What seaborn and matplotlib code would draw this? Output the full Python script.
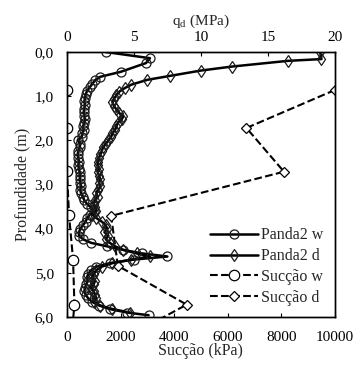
import numpy as np
import pandas as pd
import seaborn as sns
from matplotlib import pyplot as plt

# Panda2 w (circles) - depth (m) vs qd (MPa)
panda_w_depth = [0.00, 0.14, 0.25, 0.45, 0.56, 0.64, 0.72, 0.80, 0.88, 0.96, 1.04, 1.12, 1.20,
                 1.28, 1.36, 1.44, 1.52, 1.60, 1.68, 1.76, 1.84, 1.92, 2.00, 2.08, 2.16, 2.24,
                 2.32, 2.40, 2.48, 2.56, 2.64, 2.72, 2.80, 2.88, 2.96, 3.04, 3.12, 3.20, 3.28,
                 3.36, 3.44, 3.52, 3.60, 3.68, 3.76, 3.84, 3.92, 4.00, 4.08, 4.16, 4.24, 4.32,
                 4.40, 4.48, 4.56, 4.63, 4.70, 4.78, 4.86, 4.94, 5.02, 5.10, 5.18, 5.26, 5.34,
                 5.42, 5.50, 5.58, 5.66, 5.74, 5.82, 5.90, 5.96]
panda_w_qd = [2.9, 6.2, 5.9, 4.0, 2.5, 2.1, 1.9, 1.7, 1.5, 1.4, 1.35, 1.3, 1.35,
              1.3, 1.25, 1.3, 1.35, 1.3, 1.2, 1.25, 1.15, 1.1, 0.8, 1.0, 0.95, 0.85,
              0.8, 0.85, 0.9, 0.85, 0.9, 0.95, 1.0, 0.95, 1.0, 1.05, 1.0, 1.05, 1.2,
              1.3, 1.5, 1.8, 2.0, 1.7, 1.5, 1.4, 1.2, 1.0, 0.9, 0.9, 1.2, 1.8,
              3.0, 4.2, 5.6, 7.5, 5.0, 3.2, 2.2, 1.8, 1.6, 1.5, 1.55, 1.45, 1.35,
              1.3, 1.4, 1.6, 1.9, 2.4, 3.2, 4.5, 6.1]

# Panda2 d (diamonds)
panda_d_depth = [0.00, 0.16, 0.20, 0.33, 0.42, 0.54, 0.63, 0.74, 0.82, 0.90, 0.98, 1.06, 1.14,
                 1.22, 1.30, 1.38, 1.46, 1.52, 1.60, 1.68, 1.76, 1.84, 1.92, 2.00, 2.08, 2.16,
                 2.24, 2.32, 2.40, 2.48, 2.56, 2.64, 2.72, 2.80, 2.88, 2.96, 3.04, 3.12, 3.20,
                 3.28, 3.36, 3.44, 3.52, 3.60, 3.68, 3.76, 3.84, 3.92, 4.00, 4.08, 4.16, 4.24,
                 4.32, 4.40, 4.48, 4.56, 4.63, 4.70, 4.78, 4.86, 4.94, 5.02, 5.10, 5.18, 5.26,
                 5.34, 5.42, 5.50, 5.58, 5.66, 5.74, 5.82, 5.90]
panda_d_qd = [18.9, 19.0, 16.5, 12.3, 10.0, 7.7, 6.0, 4.8, 4.3, 3.9, 3.7, 3.5, 3.4,
              3.5, 3.7, 3.9, 4.2, 4.1, 3.8, 3.7, 3.6, 3.4, 3.3, 3.1, 2.9, 2.7,
              2.6, 2.5, 2.4, 2.3, 2.3, 2.4, 2.3, 2.4, 2.5, 2.4, 2.5, 2.3, 2.2,
              2.3, 2.1, 2.0, 2.1, 2.2, 1.9, 2.2, 2.6, 2.9, 3.0, 2.8, 3.1, 2.9,
              3.2, 3.6, 4.2, 5.2, 6.2, 4.8, 3.4, 2.6, 2.2, 2.0, 1.9, 2.1, 2.0,
              1.8, 2.0, 2.1, 2.2, 2.0, 2.5, 3.4, 4.7]

# Succao (kPa)
succ_w_depth = [0.86, 1.72, 2.70, 3.70, 4.70, 5.72, 6.40]
succ_w_kpa = [0, 0, 0, 80, 230, 280, 180]
succ_d_depth = [0.86, 1.72, 2.71, 3.71, 4.84, 5.72, 6.40]
succ_d_kpa = [10000, 6700, 8100, 1650, 1900, 4470, 2400]

depth_ticks = [0, 1, 2, 3, 4, 5, 6]

sns.set_style('ticks')
plt.rcParams['font.family'] = ['Liberation Serif', 'DejaVu Serif']
plt.rcParams['xtick.direction'] = 'in'
plt.rcParams['ytick.direction'] = 'in'

fig = plt.figure(figsize=(3.54, 3.65), dpi=100)
ax = fig.add_axes([0.189, 0.1315, 0.757, 0.726])
ax2 = ax.twiny()

pw = pd.DataFrame({'depth': panda_w_depth, 'qd': panda_w_qd})
pdd = pd.DataFrame({'depth': panda_d_depth, 'qd': panda_d_qd})
sw = pd.DataFrame({'depth': succ_w_depth, 'kpa': succ_w_kpa})
sd = pd.DataFrame({'depth': succ_d_depth, 'kpa': succ_d_kpa})

sns.lineplot(data=sw, x='kpa', y='depth', sort=False, orient='y', estimator=None, ax=ax,
             color='black', lw=1.5, linestyle='--', marker='o', markersize=7.5,
             markerfacecolor='white', markeredgecolor='black', markeredgewidth=0.9,
             label='Sucção w', legend=False)
sns.lineplot(data=sd, x='kpa', y='depth', sort=False, orient='y', estimator=None, ax=ax,
             color='black', lw=1.5, linestyle='--', marker='D', markersize=5.5,
             markerfacecolor='white', markeredgecolor='black', markeredgewidth=0.9,
             label='Sucção d', legend=False)

sns.lineplot(data=pw, x='qd', y='depth', sort=False, orient='y', estimator=None, ax=ax2,
             color='black', lw=1.8, marker='o', markersize=6.5,
             markerfacecolor='none', markeredgecolor='#1a1a1a', markeredgewidth=0.9,
             label='Panda2 w', legend=False)
sns.lineplot(data=pdd, x='qd', y='depth', sort=False, orient='y', estimator=None, ax=ax2,
             color='black', lw=1.8, marker='d', markersize=6.5,
             markerfacecolor='none', markeredgecolor='#1a1a1a', markeredgewidth=0.9,
             label='Panda2 d', legend=False)

ax.set_xlim(0, 10000)
ax.set_xticks([0, 2000, 4000, 6000, 8000, 10000])
ax2.set_xlim(0, 20)
ax2.set_xticks([0, 5, 10, 15, 20])
ax.set_ylim(6, 0)
ax.set_yticks(depth_ticks)
ax.set_yticklabels([('%.1f' % d).replace('.', ',') for d in depth_ticks])

ax.set_xlabel('Sucção (kPa)', fontsize=11.5, labelpad=-1)
ax.set_ylabel('Profundidade (m)', fontsize=11.5, labelpad=3)
ax2.set_xlabel('q$_\\mathregular{d}$ (MPa)', fontsize=11, labelpad=4)
ax2.set_ylabel('')
for a in (ax, ax2):
    a.tick_params(labelsize=11, length=3, width=0.8, colors='black')
    for s in a.spines.values():
        s.set_linewidth(1.0)
        s.set_color('black')
ax.tick_params(axis='x', pad=10)
ax.tick_params(axis='y', pad=9.5)
ax2.tick_params(axis='x', pad=6)

h2, l2 = ax2.get_legend_handles_labels()
h1, l1 = ax.get_legend_handles_labels()
leg = ax2.legend(h2 + h1, l2 + l1, loc='lower right', bbox_to_anchor=(0.999, 0.0),
                 frameon=False, fontsize=11.5, handlelength=3.0, handletextpad=0.2,
                 labelspacing=0.3, borderaxespad=0.3)

fig.savefig('out.png', dpi=100)
